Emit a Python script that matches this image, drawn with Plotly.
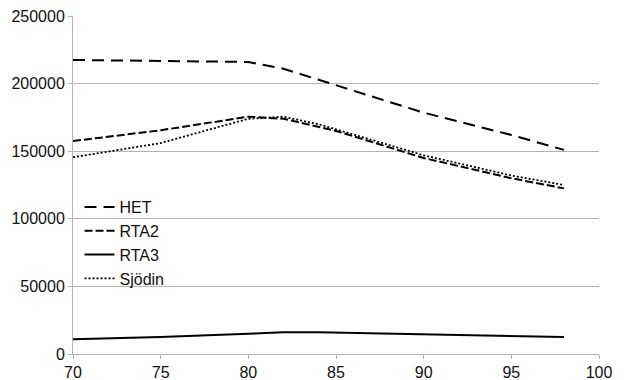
import plotly.graph_objects as go

years_het = [70, 75, 80, 82, 85, 88, 90, 95, 98]
het = [217500, 217000, 216000, 211000, 199000, 187000, 178500, 162000, 151000]

years_rta2 = [70, 75, 80, 82, 85, 90, 95, 98]
rta2 = [157500, 165500, 175500, 174000, 165000, 145000, 130000, 122500]

years_rta3 = [70, 75, 80, 82, 84, 90, 95, 98]
rta3 = [11000, 12500, 15000, 16000, 16000, 14500, 13000, 12500]

years_sjodin = [70, 75, 80, 82, 84, 90, 95, 98]
sjodin = [145500, 156000, 174000, 175500, 170000, 147000, 132000, 125000]

fig = go.Figure()
fig.add_trace(go.Scatter(x=years_het, y=het, name="HET", mode="lines",
                         line=dict(color="black", width=2, dash="12px,7px")))
fig.add_trace(go.Scatter(x=years_rta2, y=rta2, name="RTA2", mode="lines",
                         line=dict(color="black", width=2, dash="8px,3px")))
fig.add_trace(go.Scatter(x=years_rta3, y=rta3, name="RTA3", mode="lines",
                         line=dict(color="black", width=2)))
fig.add_trace(go.Scatter(x=years_sjodin, y=sjodin, name="Sjödin", mode="lines",
                         line=dict(color="black", width=1.8, dash="2px,2px")))

fig.update_layout(
    width=624, height=380,
    margin=dict(l=73, r=25, t=16, b=26, autoexpand=False),
    paper_bgcolor="white", plot_bgcolor="white",
    font=dict(family="Liberation Sans, Arial, sans-serif", size=16, color="#111111"),
    showlegend=True,
    legend=dict(x=0.0124, y=0.485, xanchor="left", yanchor="top",
                bgcolor="rgba(0,0,0,0)", font=dict(size=16), tracegroupgap=0),
    xaxis=dict(range=[70, 100], tick0=70, dtick=5, showgrid=False,
               showline=True, linecolor="#b3b3b3", linewidth=1,
               ticks="outside", ticklen=4, tickcolor="#b3b3b3",
               zeroline=False, fixedrange=True, automargin=False),
    yaxis=dict(range=[0, 250000], dtick=50000, showgrid=True, gridcolor="#b3b3b3",
               gridwidth=1, showline=True, linecolor="#b3b3b3", linewidth=1,
               ticks="outside", ticklen=4, tickcolor="#b3b3b3",
               zeroline=False, tickformat="d", fixedrange=True, automargin=False),
)

fig.write_html("out.html")
